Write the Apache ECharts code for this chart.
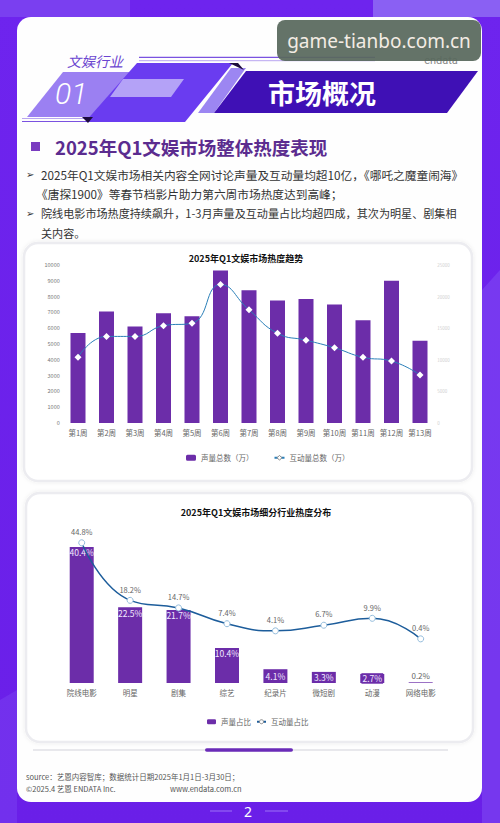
<!DOCTYPE html>
<html>
<head>
<meta charset="utf-8">
<script src="https://cdn.jsdelivr.net/npm/echarts@6/dist/echarts.min.js"></script>
<style>
html,body{margin:0;padding:0;background:#6a1fec;}
#c{width:500px;height:823px;}
</style>
</head>
<body>
<div id="c"></div>
<script>
// ---- data ----
const weeks = ['第1周','第2周','第3周','第4周','第5周','第6周','第7周','第8周','第9周','第10周','第11周','第12周','第13周'];
const volumeTotal = [5700, 7050, 6100, 6950, 6750, 9650, 8400, 7750, 7850, 7500, 6500, 9000, 5200];
const interactTotal = [10400, 13700, 13700, 15400, 15800, 21900, 17900, 14200, 13100, 11900, 10400, 9800, 7600];
const leftAxisTicks = {min: 0, max: 10000, interval: 1000};
const rightAxisTicks = {min: 0, max: 25000, interval: 5000};

const sectors = ['院线电影','明星','剧集','综艺','纪录片','微短剧','动漫','网络电影'];
const volumeShare = [40.4, 22.5, 21.7, 10.4, 4.1, 3.3, 2.7, 0.2];
const interactShare = [44.8, 18.2, 14.7, 7.4, 4.1, 6.7, 9.9, 0.4];

const seriesNames1 = ['声量总数（万）', '互动量总数（万）'];
const seriesNames2 = ['声量占比', '互动量占比'];

const bullets = [
  '2025年Q1文娱市场相关内容全网讨论声量及互动量均超10亿，《哪吒之魔童闹海》',
  '《唐探1900》等春节档影片助力第六周市场热度达到高峰；',
  '院线电影市场热度持续飙升，1-3月声量及互动量占比均超四成，其次为明星、剧集相',
  '关内容。'
];

// ---- render ----
const FF = '"Noto Sans CJK SC", "DejaVu Sans", sans-serif';
const PURPLE = '#6c2da9';
const chart = echarts.init(document.getElementById('c'), null, {renderer: 'svg', width: 500, height: 823});

function txt(text, x, y, o) {
  o = o || {};
  return {
    type: 'text', z: o.z || 10,
    style: {
      text: text, x: x, y: y,
      fill: o.fill || '#333',
      fontSize: o.size || 11,
      fontFamily: o.family || FF,
      fontWeight: o.weight || 'normal',
      fontStyle: o.style || 'normal',
      textAlign: o.align || 'left',
      textVerticalAlign: 'middle'
    }
  };
}
function poly(points, fill, z) {
  return {type: 'polygon', z: z || 5, shape: {points: points}, style: {fill: fill}};
}
function line(x1, y1, x2, y2, stroke, w, z) {
  return {type: 'line', z: z || 5, shape: {x1: x1, y1: y1, x2: x2, y2: y2}, style: {stroke: stroke, lineWidth: w}};
}
function plain(v) { return String(v); }

const graphics = [
  // background
  {type: 'rect', z: 0, shape: {x: 0, y: 0, width: 500, height: 823},
   style: {fill: new echarts.graphic.LinearGradient(0, 0, 0, 1, [
     {offset: 0, color: '#6e24ee'}, {offset: 1, color: '#6a1fe8'}])}},
  {type: 'rect', z: 0, shape: {x: 0, y: 0, width: 130, height: 17}, style: {fill: '#7a3ff0'}},
  {type: 'rect', z: 0, shape: {x: 373, y: 0, width: 127, height: 17}, style: {fill: '#8a60f3'}},
  poly([[482, 290], [500, 270], [500, 823], [482, 823]], 'rgba(140,100,250,0.35)', 0),
  poly([[0, 700], [17, 690], [17, 823], [0, 823]], 'rgba(140,100,250,0.25)', 0),
  // outer white card
  {type: 'rect', z: 1, shape: {x: 17, y: 17, width: 465, height: 785, r: 14}, style: {fill: '#fefefe'}},

  // header decorations
  line(139, 57.3, 375, 57.3, '#7a52e0', 1.2),
  line(139, 60.7, 375, 60.7, '#b9a6f0', 1),
  line(22, 118.5, 92, 118.5, '#b9a6f0', 1),
  line(22, 121.5, 92, 121.5, '#7a52e0', 1.2),
  poly([[63, 72], [150, 72], [114, 117], [27, 117]], '#9b80f2'),
  poly([[137, 63], [233, 63], [185, 122], [85, 122]], '#6a3cf0', 6),
  poly([[123, 79], [184, 79], [171, 97], [110, 97]], '#b4a2f7', 7),
  poly([[229, 63], [238, 63], [244, 70]], '#1c0b3d', 7),
  poly([[82, 117], [93, 117], [88, 123]], '#1c0b3d', 7),
  poly([[231, 68], [246, 68], [214, 113], [198, 113]], '#9c86f2', 6),
  poly([[246, 71], [478, 71], [447, 113], [214, 113]], '#3f10b5', 6),
  txt('文娱行业', 67, 61, {fill: '#6b45d0', size: 14, style: 'italic'}),
  txt('01', 55, 93, {fill: '#ffffff', size: 30, style: 'italic', family: 'Roboto, "Noto Sans", sans-serif', weight: 300, z: 12}),
  txt('市场概况', 322, 92, {fill: '#ffffff', size: 27, weight: 'bold', align: 'center', z: 12}),

  // logo behind watermark
  txt('endata', 441, 60, {fill: '#8a8a8a', size: 11, align: 'center', family: 'Roboto, sans-serif', z: 8}),
  // watermark
  {type: 'rect', z: 100, shape: {x: 277, y: 20, width: 204, height: 41, r: 8}, style: {fill: 'rgba(88,104,92,0.93)'}},
  txt('game-tianbo.com.cn', 379, 41, {fill: '#f3ece4', size: 19, align: 'center', family: '"Noto Sans", sans-serif', z: 101}),

  // section title
  {type: 'rect', z: 5, shape: {x: 31, y: 142, width: 9, height: 9}, style: {fill: '#7a3cc0'}},
  txt('2025年Q1文娱市场整体热度表现', 55, 147, {fill: '#5b2c8f', size: 18.5, weight: 'bold'}),
  txt('➢', 26, 174, {fill: '#333', size: 10, family: '"DejaVu Sans", sans-serif'}),
  txt('➢', 26, 213, {fill: '#333', size: 10, family: '"DejaVu Sans", sans-serif'}),
  txt(bullets[0], 41, 174, {size: 11.7}),
  txt(bullets[1], 36, 193.5, {size: 11.7}),
  txt(bullets[2], 41, 213, {size: 11.1}),
  txt(bullets[3], 41, 232.5, {size: 11.1}),

  // chart cards
  {type: 'rect', z: 2, shape: {x: 24, y: 243, width: 448, height: 238, r: 14},
   style: {fill: '#fff', stroke: '#ececf0', lineWidth: 2.5, shadowBlur: 4, shadowColor: 'rgba(0,0,0,0.08)'}},
  {type: 'rect', z: 2, shape: {x: 26, y: 493, width: 447, height: 249, r: 14},
   style: {fill: '#fff', stroke: '#ececf0', lineWidth: 2.5, shadowBlur: 4, shadowColor: 'rgba(0,0,0,0.08)'}},
  txt('2025年Q1文娱市场热度趋势', 246, 258, {fill: '#111', size: 9, weight: 'bold', align: 'center'}),
  txt('2025年Q1文娱市场细分行业热度分布', 256, 512, {fill: '#111', size: 9, weight: 'bold', align: 'center'}),

  // slider decoration
  line(33, 750, 448, 750, '#e8e8ec', 2),
  {type: 'rect', z: 6, shape: {x: 205, y: 748.3, width: 88, height: 3.5, r: 2}, style: {fill: '#6a2bb8'}},

  // footer
  txt('source：艺恩内容智库；数据统计日期2025年1月1日-3月30日；', 26, 776, {fill: '#555', size: 7.5}),
  txt('©2025.4 艺恩 ENDATA Inc.', 26, 788, {fill: '#555', size: 7.5}),
  txt('www.endata.com.cn', 170, 788, {fill: '#555', size: 7.5}),
  txt('2', 248, 811, {fill: '#ffffff', size: 14, align: 'center', family: '"Noto Sans", sans-serif'}),
  line(210, 811, 232, 811, 'rgba(190,170,255,0.6)', 1),
  line(265, 811, 288, 811, 'rgba(190,170,255,0.6)', 1)
];

const option = {
  animation: false,
  textStyle: {fontFamily: FF},
  graphic: {elements: graphics},
  grid: [
    {left: 63.75, right: 65.75, top: 265, bottom: 400, z: 3},
    {left: 57.5, right: 55.1, top: 535, bottom: 140, z: 3}
  ],
  legend: [
    {
      left: 181, top: 449, itemWidth: 10, itemHeight: 6, itemGap: 20, z: 10,
      textStyle: {fontSize: 7.5, color: '#666', fontFamily: FF},
      data: [
        {name: seriesNames1[0]},
        {name: seriesNames1[1], itemStyle: {color: '#fff', borderColor: '#888', borderWidth: 1}}
      ]
    },
    {
      left: 202, top: 713, itemWidth: 9, itemHeight: 5, itemGap: 5, z: 10,
      textStyle: {fontSize: 7.5, color: '#666', fontFamily: FF},
      data: [
        {name: seriesNames2[0]},
        {name: seriesNames2[1], itemStyle: {color: '#fff', borderColor: '#888', borderWidth: 1}}
      ]
    }
  ],
  xAxis: [
    {type: 'category', gridIndex: 0, data: weeks, z: 10,
     axisLine: {show: false}, axisTick: {show: false},
     axisLabel: {fontSize: 7.5, color: '#666', margin: 6, interval: 0}},
    {type: 'category', gridIndex: 1, data: sectors, z: 10,
     axisLine: {show: false}, axisTick: {show: false},
     axisLabel: {fontSize: 7.5, color: '#666', margin: 6, interval: 0}}
  ],
  yAxis: [
    {type: 'value', gridIndex: 0, min: leftAxisTicks.min, max: leftAxisTicks.max, interval: leftAxisTicks.interval, z: 10,
     axisLine: {show: false}, axisTick: {show: false}, splitLine: {show: false},
     axisLabel: {fontSize: 5.5, color: '#777', margin: 4, formatter: plain}},
    {type: 'value', gridIndex: 0, position: 'right', min: rightAxisTicks.min, max: rightAxisTicks.max, interval: rightAxisTicks.interval, z: 10,
     axisLine: {show: false}, axisTick: {show: false}, splitLine: {show: false},
     axisLabel: {fontSize: 4.5, color: '#cfcfcf', margin: 3, formatter: plain}},
    {type: 'value', gridIndex: 1, min: 0, max: 44, show: false, splitLine: {show: false}},
    {type: 'value', gridIndex: 1, min: -20, max: 48.4, show: false, splitLine: {show: false}}
  ],
  series: [
    {
      name: seriesNames1[0], type: 'bar', xAxisIndex: 0, yAxisIndex: 0,
      data: volumeTotal, barWidth: 15, itemStyle: {color: PURPLE}, z: 3
    },
    {
      name: seriesNames1[1], type: 'line', xAxisIndex: 0, yAxisIndex: 1,
      data: interactTotal, smooth: true, symbol: 'diamond', symbolSize: 7,
      lineStyle: {color: '#2a7fb8', width: 1}, itemStyle: {color: '#ffffff'}, z: 4
    },
    {
      name: seriesNames2[0], type: 'bar', xAxisIndex: 1, yAxisIndex: 2,
      barWidth: 24, itemStyle: {color: PURPLE}, z: 3,
      label: {show: true, position: 'insideTop', distance: 1, fontSize: 8.5, color: '#f1e9ff',
              formatter: function (p) { return p.value + '%'; }},
      data: volumeShare.map(function (v) {
        if (v < 1) {
          return {value: v, label: {position: 'top', distance: 3, color: '#666', fontSize: 8}};
        }
        if (v < 5) {
          return {value: v, label: {position: 'inside', backgroundColor: PURPLE, padding: [1, 1]}};
        }
        return v;
      })
    },
    {
      name: seriesNames2[1], type: 'line', xAxisIndex: 1, yAxisIndex: 3,
      data: interactShare, smooth: true, symbol: 'circle', symbolSize: 6,
      lineStyle: {color: '#1d5d9b', width: 1.5},
      itemStyle: {color: '#ffffff', borderColor: '#93bcdc', borderWidth: 1}, z: 4,
      label: {show: true, position: 'top', distance: 4, fontSize: 7.5, color: '#666',
              formatter: function (p) { return p.value + '%'; }}
    }
  ]
};
chart.setOption(option);
</script>
</body>
</html>
